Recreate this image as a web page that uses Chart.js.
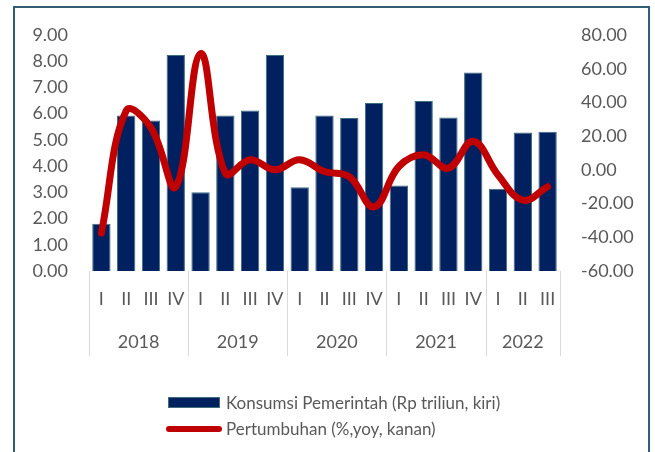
<!DOCTYPE html>
<html>
<head>
<meta charset="utf-8">
<script src="https://cdn.jsdelivr.net/npm/chart.js@4"></script>
<style>
  html, body { margin: 0; padding: 0; background: #fff; }
  body { width: 655px; height: 452px; position: relative; overflow: hidden; font-family: Lato, sans-serif; }
  #frame { position: absolute; left: 13px; top: 6px; width: 637px; height: 460px; border: 2px solid #2f5f70; box-sizing: border-box; }
  #wrap { position: absolute; left: 0; top: 0; width: 655px; height: 452px; }
  .leg { position: absolute; left: 166px; font-size: 17px; color: #595959; display: flex; align-items: center; white-space: nowrap; }
  .leg .sw { width: 52px; margin-right: 6px; }
</style>
</head>
<body>
<div id="frame"></div>
<div id="wrap"><canvas id="grafica" width="655" height="452"></canvas></div>
<div class="leg" style="top: 392px;"><span class="sw" style="height: 9px; background: #002060; border: 1px solid #3d6e7d; margin-left: 2px; width: 50px;"></span>Konsumsi Pemerintah (Rp triliun, kiri)</div>
<div class="leg" style="top: 418px;"><span class="sw" style="height: 6px; background: #c00000; border-radius: 3px; width: 56px; margin-right: 4px;"></span>Pertumbuhan (%,yoy, kanan)</div>
<script>
const kuartal = ['I', 'II', 'III', 'IV', 'I', 'II', 'III', 'IV', 'I', 'II', 'III', 'IV', 'I', 'II', 'III', 'IV', 'I', 'II', 'III']
const tahun = ['2018', '2019', '2020', '2021', '2022']
const jumlahKuartal = [4, 4, 4, 4, 3]
const konsumsi = [1.8, 5.93, 5.74, 8.24, 3.0, 5.93, 6.12, 8.24, 3.19, 5.93, 5.83, 6.41, 3.26, 6.48, 5.85, 7.57, 3.14, 5.28, 5.31]
const pertumbuhan = [-37.5, 35, 25, -10, 69, -2, 6, 0, 6, -1, -4, -22, 2, 9, 1, 17, -3, -18, -10]

const abu = '#595959'
const fuente = { family: 'Lato', size: 18 }

// year labels and group separators below the quarter labels
const tahunPlugin = {
    id: 'tahun',
    afterDraw(chart) {
        const x = chart.scales.x
        const ctx = chart.ctx
        const w = x.getPixelForValue(1) - x.getPixelForValue(0)
        const top = chart.chartArea.bottom
        ctx.save()
        ctx.strokeStyle = '#d9d9d9'
        ctx.lineWidth = 1
        ctx.fillStyle = abu
        ctx.font = '18px Lato'
        ctx.textAlign = 'center'
        ctx.textBaseline = 'middle'
        let idx = 0
        const garis = [idx]
        tahun.forEach((t, i) => {
            const a = x.getPixelForValue(idx) - w / 2
            idx += jumlahKuartal[i]
            const b = x.getPixelForValue(idx - 1) + w / 2
            ctx.fillText(t, (a + b) / 2, 342)
            garis.push(idx)
        })
        garis.forEach(g => {
            const px = Math.round(x.getPixelForValue(0) - w / 2 + g * w) + 0.5
            ctx.beginPath()
            ctx.moveTo(px, top)
            ctx.lineTo(px, 356)
            ctx.stroke()
        })
        ctx.restore()
    }
}

new Chart(document.querySelector('#grafica'), {
    data: {
        labels: kuartal,
        datasets: [{
            type: 'line',
            label: 'Pertumbuhan (%,yoy, kanan)',
            data: pertumbuhan,
            yAxisID: 'y1',
            borderColor: '#c00000',
            borderWidth: 7,
            borderCapStyle: 'round',
            tension: 0.4,
            pointRadius: 0,
            fill: false,
            order: 0
        }, {
            type: 'bar',
            label: 'Konsumsi Pemerintah (Rp triliun, kiri)',
            data: konsumsi,
            yAxisID: 'y',
            backgroundColor: '#002060',
            borderColor: '#3d6e7d',
            borderWidth: 1,
            barPercentage: 0.74,
            categoryPercentage: 1,
            order: 1
        }]
    },
    options: {
        responsive: false,
        animation: false,
        layout: { padding: { top: 35, left: 0, right: 0, bottom: 0 } },
        plugins: { legend: { display: false }, tooltip: { enabled: false } },
        scales: {
            x: {
                grid: { display: false, drawTicks: false },
                border: { display: false },
                ticks: { color: abu, font: fuente, padding: 17, maxRotation: 0, autoSkip: false },
                afterFit: s => { s.height = 181 }
            },
            y: {
                position: 'left',
                min: 0, max: 9,
                grid: { display: false, drawTicks: false },
                border: { display: false },
                ticks: { stepSize: 1, color: abu, font: fuente, padding: 21, callback: v => v.toFixed(2) },
                afterFit: s => { s.width = 89 }
            },
            y1: {
                position: 'right',
                min: -60, max: 80,
                grid: { display: false, drawTicks: false },
                border: { display: false },
                ticks: { stepSize: 20, color: abu, font: fuente, padding: 21, callback: v => v.toFixed(2) },
                afterFit: s => { s.width = 95 }
            }
        }
    },
    plugins: [tahunPlugin]
})
</script>
</body>
</html>
